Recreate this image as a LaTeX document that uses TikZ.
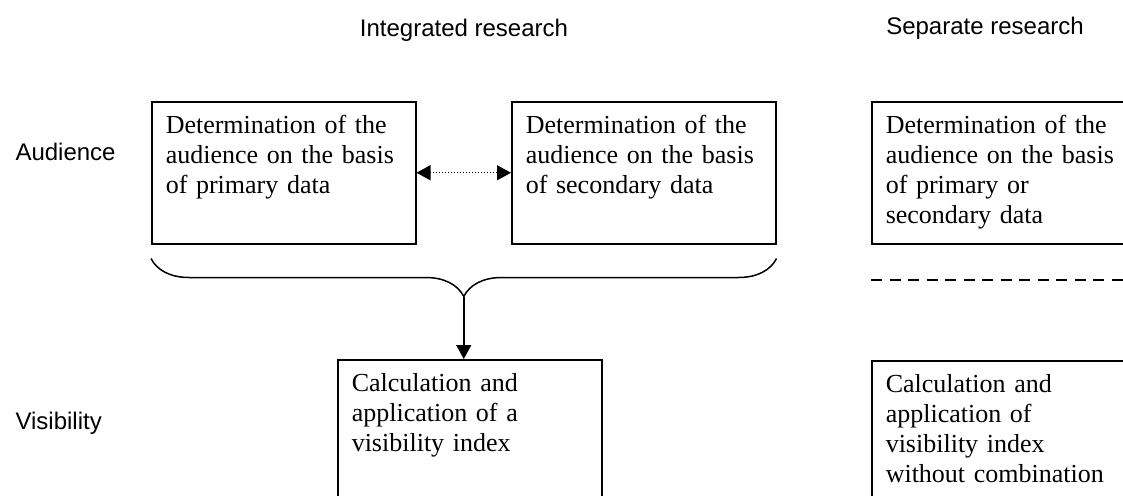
\documentclass[tikz,border=0pt]{standalone}
\usepackage{fontspec}
\setmainfont{Liberation Serif}
\setsansfont{Liberation Sans}
\usetikzlibrary{arrows.meta, calc, decorations.pathreplacing}

\begin{document}
\begin{tikzpicture}[x=1pt, y=-1pt, >={Triangle[length=14pt, width=15pt]},
  stagebox/.style={draw, line width=1.5pt, anchor=north west, align=left,
    text width=236pt, inner xsep=14pt, inner ysep=14pt,
    text height=18pt, text depth=96pt,
    font=\fontsize{26}{30}\selectfont},
  rowlabel/.style={anchor=base west, font=\sffamily\fontsize{24}{28}\selectfont},
  collabel/.style={anchor=base, font=\sffamily\fontsize{24}{28}\selectfont}]
  \useasboundingbox (0,0) rectangle (1123,495);
  \clip (0,0) rectangle (1123,495);

  % column and row headings
  \node[collabel] (integ) at (464,37) {Integrated research};
  \node[collabel] (separ) at (985,35) {Separate research};
  \node[rowlabel] (aud) at (12,160) {Audience};
  \node[rowlabel] (vis) at (12,429) {Visibility};

  % audience row
  \node[stagebox] (prim) at (151,101) {Determination of the\\audience on the basis\\of primary data};
  \node[stagebox] (sec) at (511,101) {Determination of the\\audience on the basis\\of secondary data};
  \node[stagebox] (either) at (871,101) {Determination of the\\audience on the basis\\of primary or\\secondary data};

  % visibility row
  \node[stagebox, text depth=200pt] (index) at (337,359) {Calculation and\\application of a\\visibility index};
  \node[stagebox, text depth=200pt] (sepindex) at (871,360) {Calculation and\\application of\\visibility index\\without combination};

  \draw[line width=1.2pt, dash pattern=on 1.2pt off 1.8pt, <->] (prim) -- (sec);

  \draw[line width=1.5pt, decorate, decoration={brace, mirror, amplitude=38pt}]
    ($(prim.south west)+(0,14)$) -- ($(sec.south east)+(0,14)$);
  \path (prim.south west) -- (sec.south east) coordinate[pos=.5, yshift=-52pt] (bracetip);
  \draw[line width=1.5pt, ->] (bracetip) -- (bracetip |- index.north);

  \draw[line width=2pt, dash pattern=on 11pt off 7.5pt]
    ($(either.south west)+(0,35)$) -- ($(either.south east)+(0,35)$);
\end{tikzpicture}
\end{document}
